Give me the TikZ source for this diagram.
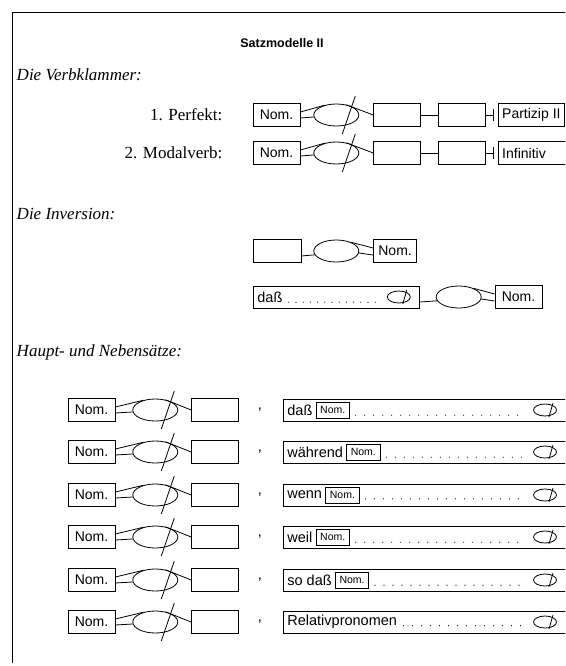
\documentclass[tikz,border=0pt]{standalone}
\usepackage{fontspec}
\setmainfont{Liberation Serif}
\setsansfont{Liberation Sans}
\usetikzlibrary{shapes.geometric, positioning}

\begin{document}
\begin{tikzpicture}[
  x=1pt, y=-1pt, line width=0.8pt,
  field/.style={rectangle, draw, minimum width=47pt, minimum height=23pt, inner sep=2pt, font=\sffamily\fontsize{14}{16}\selectfont},
  wide/.style={field, inner xsep=4pt, align=left},
  verb/.style={ellipse, draw, minimum width=45pt, minimum height=22pt, inner sep=0pt},
  smallverb/.style={ellipse, draw, minimum width=23pt, minimum height=12pt, inner sep=0pt},
  clause/.style={rectangle, draw, minimum height=22pt, inner sep=0pt, anchor=west},
  word/.style={anchor=west, inner sep=0pt, font=\sffamily\fontsize{14.5}{17}\selectfont},
  tag/.style={rectangle, draw, inner xsep=4pt, inner ysep=2pt, minimum height=16pt, font=\sffamily\fontsize{10.5}{12}\selectfont},
  head/.style={anchor=west, font=\itshape\fontsize{17}{20}\selectfont},
  case/.style={anchor=east, font=\fontsize{17}{20}\selectfont},
  dots/.style={line width=1.2pt, line cap=round, dash pattern=on 0pt off 9pt}
]
\clip (0,0) rectangle (565,666);
\draw (12,663) -- (12,12) -- (566,12);

\node[font=\sffamily\bfseries\fontsize{12.5}{15}\selectfont] (title) at (282,43) {Satzmodelle II};

% Verbklammer
\node[head] (verbklammer) at (13,75) {Die Verbklammer:};
\node[case] (perfekt) at (226,115) {1. Perfekt:};
\node[case] (modalverb) at (226,153) {2. Modalverb:};

\foreach \r/\y in {A/115, B/153} {
  \node[field] (nom\r) at (276.5,\y) {Nom.};
  \node[verb, right=13pt of nom\r] (verb\r) {};
  \node[field, right=14pt of verb\r] (mid\r) {};
  \node[field, right=17pt of mid\r] (end\r) {};
  \draw ([yshift=3pt]nom\r.east) -- (verb\r.140);
  \draw ([yshift=-3pt]nom\r.east) -- (verb\r.185);
  \draw ([shift={(19pt,19pt)}]verb\r.center) -- ([shift={(6pt,-19pt)}]verb\r.center);
  \draw (verb\r.45) -- (mid\r.west);
  \draw (mid\r) -- (end\r);
}
\node[wide, right=12pt of endA] (partA) {Partizip II};
\node[wide, right=12pt of endB, text width=66pt] (infB) {Infinitiv};
\foreach \r/\e in {A/partA, B/infB} {
  \coordinate (tick\r) at ([xshift=-4pt]\e.west);
  \draw (end\r) -- (tick\r);
  \draw ([yshift=6pt]tick\r) -- ([yshift=-6pt]tick\r);
}

% Inversion
\node[head] (inversion) at (13,214) {Die Inversion:};
\node[field, minimum width=48pt] (frontC) at (277,251) {};
\node[verb, right=12pt of frontC] (verbC) {};
\node[field, right=14pt of verbC, minimum width=43pt] (nomC) {Nom.};
\draw ([yshift=-5pt]frontC.east) -- (verbC.190);
\draw (verbC.30) -- ([yshift=3pt]nomC.west);
\draw (verbC.355) -- ([yshift=-4pt]nomC.west);

\node[clause, minimum width=166pt] (dassD) at (253,297) {};
\node[word] (wordD) at ([xshift=4pt]dassD.west) {daß};
\node[smallverb] (smallD) at ([xshift=-21pt]dassD.east) {};
\draw ([shift={(8pt,7pt)}]smallD.center) -- ([shift={(4pt,-7pt)}]smallD.center);
\coordinate (dotstartD) at (wordD.base east);
\coordinate (dotendD) at (smallD.west |- wordD.base);
\draw[dots, dash pattern=on 0pt off 7.2pt] ([xshift=6pt]dotstartD) -- ([xshift=-7pt]dotendD);
\node[verb, right=16pt of dassD] (verbD) {};
\node[field, right=13pt of verbD] (nomD) {Nom.};
\draw ([yshift=-5pt]dassD.east) -- (verbD.190);
\draw (verbD.30) -- ([yshift=3pt]nomD.west);
\draw (verbD.355) -- ([yshift=-4pt]nomD.west);

% Haupt- und Nebensaetze
\node[head] (nebensaetze) at (13,352) {Haupt- und Nebensätze:};
\foreach \i/\y in {1/410, 2/452, 3/495, 4/537, 5/580, 6/622} {
  \node[field] (nom\i) at (91.5,\y) {Nom.};
  \node[verb, right=17pt of nom\i] (verb\i) {};
  \node[field, right=13pt of verb\i] (mid\i) {};
  \node[word, anchor=center] (comma\i) at (260,\y) {,};
  \node[clause, minimum width=300pt] (clause\i) at (283,\y) {};
  \node[smallverb] (small\i) at (545,\y) {};
  \draw ([yshift=3pt]nom\i.east) -- (verb\i.140);
  \draw ([yshift=-3pt]nom\i.east) -- (verb\i.185);
  \draw ([shift={(19pt,19pt)}]verb\i.center) -- ([shift={(6pt,-19pt)}]verb\i.center);
  \draw (verb\i.45) -- (mid\i.west);
  \draw ([shift={(8pt,7pt)}]small\i.center) -- ([shift={(4pt,-7pt)}]small\i.center);
}
\foreach \i/\kw in {1/daß, 2/während, 3/wenn, 4/weil, 5/so daß} {
  \node[word] (word\i) at ([xshift=4pt]clause\i.west) {\kw};
  \node[tag, right=3pt of word\i] (tag\i) {Nom.};
  \coordinate (dotstart\i) at (tag\i.east |- word\i.base);
  \coordinate (dotend\i) at (small\i.west |- word\i.base);
  \draw[dots] ([xshift=6pt]dotstart\i) -- ([xshift=-7pt]dotend\i);
}
\node[word] (word6) at ([xshift=4pt]clause6.west) {Relativpronomen};
\coordinate (dotstart6) at (word6.base east);
\coordinate (dotend6) at (small6.west |- word6.base);
\draw[dots] ([xshift=6pt]dotstart6) -- ([xshift=-7pt]dotend6);
\end{tikzpicture}
\end{document}
